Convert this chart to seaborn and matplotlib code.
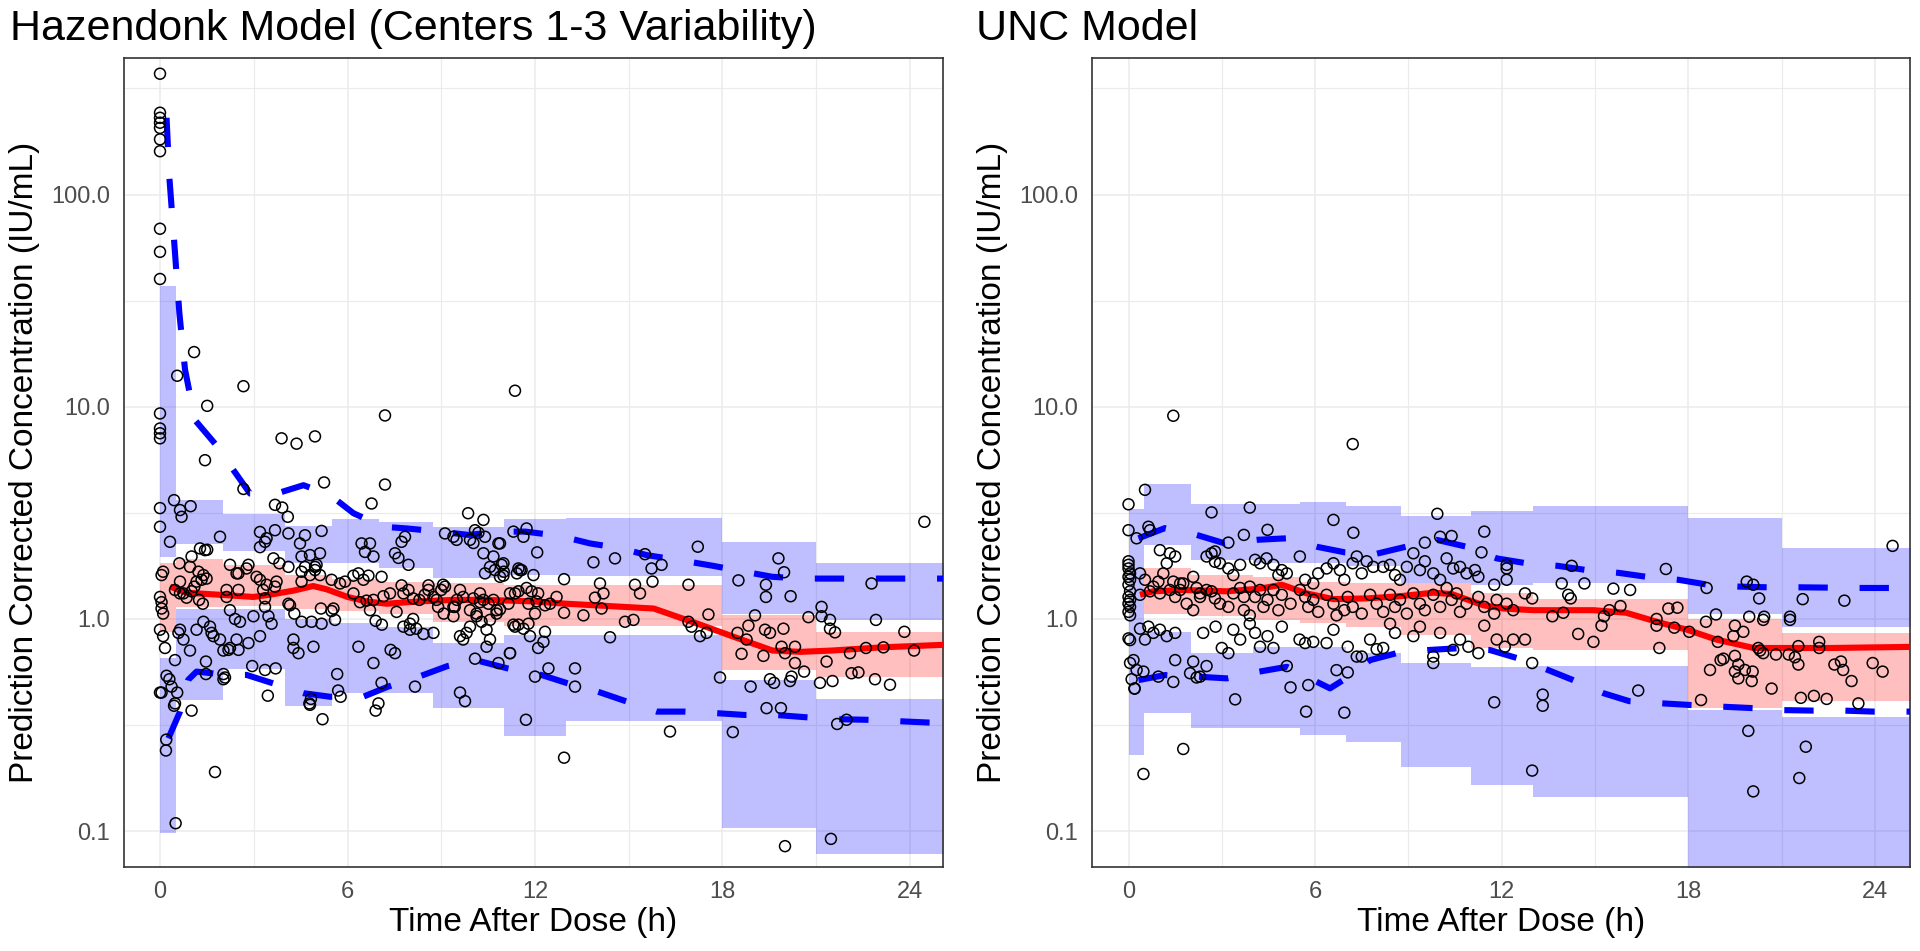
import numpy as np
import pandas as pd
import matplotlib
matplotlib.use("Agg")
from matplotlib import pyplot as plt
import seaborn as sns

# bins shared by both panels (h)
bin_edges = [0, 0.5, 2, 4, 5.5, 7, 8.75, 11, 13, 18, 21, 25.5]

# ---- Hazendonk model (left) ----
left_p95_lo = [1.96, 2.26, 2.10, 1.84, 1.84, 1.74, 1.56, 1.61, 1.60, 1.06, 0.99]
left_p95_hi = [37.0, 3.64, 3.13, 2.75, 2.96, 2.85, 2.72, 2.96, 3.00, 2.31, 1.84]
left_p50_lo = [0.87, 1.14, 1.15, 1.11, 1.09, 1.06, 0.97, 0.93, 0.93, 0.575, 0.53]
left_p50_hi = [1.83, 1.92, 1.80, 1.61, 1.55, 1.50, 1.47, 1.45, 1.45, 1.04, 0.87]
left_p05_lo = [0.098, 0.415, 0.58, 0.39, 0.45, 0.45, 0.38, 0.28, 0.33, 0.103, 0.078]
left_p05_hi = [0.655, 1.12, 1.11, 1.00, 0.96, 0.92, 0.77, 0.84, 0.84, 0.515, 0.42]

left_median = [(0.32, 1.42), (0.85, 1.33), (1.92, 1.30), (2.99, 1.27), (3.5, 1.30),
               (4.27, 1.36), (4.9, 1.43), (5.33, 1.38), (6.0, 1.27), (6.6, 1.21),
               (7.25, 1.18), (8.3, 1.21), (9.4, 1.23), (10.45, 1.23), (11.95, 1.21),
               (13.0, 1.18), (15.8, 1.12), (17.2, 0.95), (18.3, 0.83), (19.6, 0.71),
               (20.5, 0.70), (21.5, 0.71), (23.1, 0.735), (25.5, 0.76)]
left_q95 = [(0.21, 230), (0.3, 120), (0.45, 61), (0.62, 27.6), (0.8, 15), (1.12, 8.65),
            (1.76, 6.7), (2.35, 5.03), (2.88, 3.9), (3.73, 3.9), (4.59, 4.27),
            (5.44, 3.84), (6.19, 3.15), (7.15, 2.72), (7.9, 2.67), (8.96, 2.58),
            (9.87, 2.49), (10.93, 2.58), (11.7, 2.58), (12.8, 2.46), (13.76, 2.27),
            (14.77, 2.15), (15.57, 2.0), (16.75, 1.88), (17.7, 1.78), (18.7, 1.67),
            (19.6, 1.58), (20.6, 1.55), (25.5, 1.55)]
left_q05 = [(0.27, 0.274), (0.64, 0.366), (0.9, 0.516), (1.17, 0.565), (1.65, 0.555),
            (2.0, 0.545), (2.77, 0.545), (3.57, 0.50), (4.59, 0.447), (5.44, 0.43),
            (6.5, 0.43), (7.3, 0.48), (8.3, 0.536), (9.2, 0.60), (10.1, 0.64),
            (11.1, 0.586), (12.2, 0.545), (13.0, 0.50), (14.0, 0.455), (14.9, 0.41),
            (15.9, 0.366), (16.8, 0.366), (17.8, 0.36), (18.7, 0.353), (19.7, 0.353),
            (20.7, 0.344), (21.7, 0.337), (22.6, 0.335), (23.6, 0.33), (24.6, 0.325),
            (25.5, 0.322)]
left_obs = [
    (0, 371), (0, 243), (0, 230), (0, 218), (0, 206), (0, 182), (0, 160), (0, 69),
    (0, 53.7), (0, 40), (0, 9.3), (0, 7.9), (0, 7.5), (0, 7.1), (1.09, 18.1),
    (0.55, 14.0), (2.67, 12.5), (1.51, 10.1), (3.89, 7.1), (4.37, 6.7), (4.96, 7.25),
    (7.2, 9.1), (11.36, 11.9), (1.44, 5.6),
    (0, 3.33), (0, 2.72), (0.05, 1.61), (0.1, 1.67), (0, 1.27), (0.05, 1.20),
    (0.05, 1.12), (0.1, 1.06), (0, 0.89), (0.1, 0.83), (0.16, 0.73), (0, 0.45),
    (0.05, 0.45), (0.2, 0.27), (0.19, 0.24), (0.5, 0.109),
    (0.45, 3.63), (0.64, 3.26), (0.69, 3.03), (0.98, 3.4), (0.32, 2.31), (0.62, 1.83),
    (0.64, 1.5), (0.48, 1.37), (0.64, 1.32), (0.75, 1.32), (0.85, 1.26), (1.01, 1.35),
    (0.64, 0.89), (0.59, 0.86), (0.75, 0.80), (0.96, 0.71), (0.48, 0.64), (0.21, 0.54),
    (0.37, 0.48), (0.45, 0.39), (1.01, 0.37), (0.48, 0.40), (0.3, 0.52), (0.55, 0.45),
    (1.28, 2.15), (1.44, 2.11), (1.51, 2.12), (1.92, 2.44), (1.01, 1.97), (0.96, 1.76),
    (1.23, 1.67), (1.39, 1.61), (1.33, 1.53), (1.17, 1.50), (1.49, 1.55), (1.1, 1.42),
    (1.25, 1.23), (1.37, 1.18), (1.17, 0.89), (1.39, 0.97), (1.6, 0.92), (1.65, 0.86),
    (1.92, 0.80), (2.03, 0.71), (1.71, 0.83), (1.47, 0.63), (1.47, 0.55), (2.03, 0.55),
    (2.03, 0.52), (2.08, 0.53), (1.76, 0.19),
    (2.67, 4.1), (3.68, 3.45), (3.91, 3.35), (4.09, 3.03), (3.2, 2.57), (3.41, 2.40),
    (3.68, 2.62), (3.2, 2.18), (3.36, 2.31), (3.63, 1.93), (3.82, 1.83), (2.24, 1.80),
    (2.51, 1.64), (2.77, 1.73), (2.83, 1.80), (3.09, 1.58), (3.2, 1.53), (3.41, 1.45),
    (3.3, 1.37), (3.36, 1.25), (2.13, 1.37), (2.13, 1.27), (2.51, 1.37), (2.45, 1.64),
    (3.68, 1.42), (3.73, 1.50), (2.24, 1.10), (2.4, 1.0), (2.56, 0.97), (2.99, 1.03),
    (3.36, 1.14), (3.47, 1.03), (3.57, 0.95), (3.2, 0.83), (2.83, 0.77), (2.45, 0.80),
    (2.24, 0.73), (2.51, 0.715), (2.19, 0.715), (2.95, 0.60), (3.36, 0.575),
    (3.7, 0.585), (3.45, 0.435), (4.27, 0.80), (4.27, 0.73), (4.43, 0.69), (4.91, 0.74),
    (4.11, 2.53), (4.64, 2.48), (5.17, 2.60), (4.48, 2.27), (5.12, 2.04), (4.53, 1.97),
    (4.8, 2.0), (5.01, 1.80), (4.96, 1.70), (4.53, 1.67), (4.11, 1.76), (4.53, 1.50),
    (4.64, 1.76), (4.8, 1.61), (4.96, 1.76), (5.12, 1.61), (5.49, 1.53), (5.76, 1.47),
    (5.92, 1.50), (4.11, 1.18), (4.16, 1.16), (5.25, 4.4), (5.2, 0.337), (4.8, 0.394),
    (4.83, 0.42), (4.78, 0.40), (5.67, 0.55), (5.7, 0.46), (5.78, 0.43), (4.3, 1.06),
    (4.53, 0.97), (4.85, 0.97), (5.17, 0.95), (5.6, 0.99), (5.49, 1.09), (5.55, 1.12),
    (5.15, 1.12),
    (7.2, 4.3), (6.77, 3.5), (6.45, 2.27), (6.72, 2.27), (6.56, 2.07), (6.83, 1.97),
    (7.52, 2.04), (7.63, 1.94), (7.95, 1.80), (7.73, 2.31), (7.84, 2.44), (6.19, 1.32),
    (6.67, 1.60), (6.19, 1.60), (6.35, 1.64), (6.51, 1.53), (6.4, 1.20), (6.61, 1.22),
    (6.72, 1.10), (6.83, 1.23), (7.09, 1.58), (7.15, 1.28), (7.36, 1.32), (7.57, 1.08),
    (7.73, 1.44), (7.79, 1.32), (7.95, 1.37), (6.9, 0.98), (7.1, 0.94), (6.35, 0.74),
    (6.83, 0.62), (6.99, 0.40), (6.9, 0.37), (7.09, 0.50), (7.38, 0.715), (7.52, 0.69),
    (8.16, 0.48), (7.79, 0.92), (8.0, 0.89),
    (8.1, 1.25), (8.3, 1.23), (8.47, 1.30), (8.59, 1.44), (8.59, 1.37), (8.75, 1.27),
    (8.85, 1.23), (9.0, 1.37), (9.06, 1.45), (9.12, 1.42), (9.39, 1.14), (9.5, 1.23),
    (9.6, 1.37), (9.7, 1.27), (9.92, 1.10), (10.03, 1.25), (10.24, 1.32), (10.35, 1.23),
    (10.51, 1.18), (10.67, 1.23), (10.77, 1.10), (10.99, 1.60), (11.15, 1.18),
    (11.36, 1.32), (11.42, 1.64), (11.47, 1.73), (10.56, 1.76), (10.4, 1.64),
    (10.72, 1.70), (10.88, 1.58), (10.99, 1.83), (11.52, 1.70), (10.35, 2.04),
    (10.67, 1.97), (9.86, 3.15), (10.35, 2.93), (10.19, 2.55), (10.4, 2.44),
    (10.83, 2.27), (10.08, 2.62), (9.12, 2.53), (9.49, 2.36), (9.92, 2.36), (10.03, 2.28),
    (9.39, 2.44), (8.0, 0.95), (8.2, 0.90), (8.1, 1.00), (8.43, 0.85), (8.75, 0.86),
    (8.9, 1.14), (9.08, 1.06), (9.43, 1.14), (9.39, 1.03), (9.81, 0.86), (9.92, 0.92),
    (9.7, 0.80), (9.6, 0.83), (10.13, 1.03), (10.29, 0.97), (10.45, 0.89), (10.45, 0.74),
    (10.56, 0.80), (10.56, 0.99), (11.36, 0.92), (11.47, 0.94), (10.24, 1.20),
    (10.13, 1.06), (10.88, 1.11), (10.77, 1.06), (10.08, 0.65), (10.83, 0.62),
    (11.2, 0.69), (9.6, 0.45), (9.76, 0.41),
    (10.88, 2.27), (10.93, 1.80), (11.0, 1.67), (11.57, 1.70), (11.95, 1.61), (12.07, 2.06),
    (11.73, 2.67), (11.63, 2.44), (11.31, 2.58), (11.2, 1.32), (11.47, 1.35), (11.73, 1.40),
    (11.89, 1.35), (12.1, 1.32), (12.32, 1.16), (12.48, 1.18), (12.69, 1.27), (11.79, 1.18),
    (12.05, 1.21), (12.0, 1.06), (11.31, 0.94), (11.63, 0.90), (11.79, 0.95), (11.84, 0.83),
    (12.32, 0.87), (12.27, 0.78), (12.1, 0.73), (11.2, 0.69), (12.43, 0.585), (12.0, 0.535),
    (13.28, 0.585), (13.28, 0.48), (11.71, 0.335), (12.93, 0.222),
    (12.93, 1.54), (12.93, 1.07), (13.55, 1.04), (13.87, 1.85), (14.08, 1.47), (14.19, 1.32),
    (13.92, 1.26), (14.13, 1.12), (14.4, 0.82), (14.56, 1.93), (15.2, 1.45), (15.36, 1.32),
    (14.88, 0.97), (15.15, 0.99), (15.52, 2.02), (15.73, 1.73), (15.76, 1.50), (16.05, 1.80),
    (16.91, 1.45), (17.21, 2.19), (16.91, 0.97), (17.01, 0.92), (17.28, 0.83), (17.49, 0.86),
    (17.55, 1.05), (16.32, 0.295),
    (17.92, 0.53), (18.33, 0.293), (18.51, 1.52), (18.48, 0.86), (18.77, 0.80), (18.83, 0.93),
    (19.04, 1.04), (18.61, 0.685), (19.31, 0.67), (18.9, 0.48), (19.36, 0.89), (19.52, 0.86),
    (19.39, 1.45), (19.39, 1.27), (19.79, 1.93), (19.97, 1.66), (20.18, 1.28), (19.41, 0.38),
    (19.87, 0.38), (19.95, 0.90), (20.32, 0.74), (20.32, 0.62), (19.89, 0.74), (20.0, 0.69),
    (20.21, 0.535), (20.16, 0.51), (19.52, 0.52), (19.65, 0.50), (20.61, 0.565), (21.12, 0.50),
    (21.52, 0.51), (21.33, 0.63), (20.75, 1.02), (21.17, 1.14), (21.17, 1.03), (21.44, 0.99),
    (21.44, 0.90), (21.6, 0.865), (22.08, 0.69), (22.13, 0.555), (22.35, 0.56), (22.59, 0.73),
    (22.88, 0.52), (23.15, 0.735), (23.36, 0.49), (22.91, 0.99), (22.77, 1.47), (23.82, 0.87),
    (24.13, 0.71), (24.46, 2.87), (21.67, 0.32), (21.97, 0.335), (20.0, 0.085), (21.47, 0.092),
]

# ---- UNC model (right) ----
right_p95_lo = [0.86, 2.22, 1.90, 1.83, 1.83, 1.77, 1.48, 1.45, 1.47, 1.06, 0.92]
right_p95_hi = [3.29, 4.32, 3.49, 3.49, 3.57, 3.41, 3.06, 3.21, 3.39, 2.98, 2.17]
right_p50_lo = [1.30, 1.06, 1.03, 0.99, 0.96, 0.92, 0.84, 0.73, 0.714, 0.379, 0.41]
right_p50_hi = [1.30, 1.73, 1.61, 1.58, 1.50, 1.47, 1.48, 1.32, 1.24, 0.995, 0.856]
right_p05_lo = [0.228, 0.359, 0.305, 0.305, 0.284, 0.264, 0.201, 0.165, 0.145, 0.01, 0.01]
right_p05_hi = [0.86, 0.87, 0.69, 0.74, 0.74, 0.69, 0.618, 0.596, 0.60, 0.372, 0.346]

right_median = [(0.37, 1.30), (0.8, 1.35), (1.76, 1.37), (3.16, 1.35), (4.23, 1.39),
                (4.93, 1.45), (5.73, 1.32), (6.59, 1.24), (7.66, 1.25), (8.73, 1.28),
                (9.8, 1.33), (10.4, 1.31), (11.41, 1.16), (12.05, 1.12), (13.02, 1.10),
                (14.95, 1.10), (16.0, 1.07), (16.99, 0.97), (17.96, 0.89), (18.9, 0.80),
                (20.1, 0.73), (21.05, 0.73), (22.6, 0.73), (25.5, 0.74)]
right_q95 = [(0.32, 2.4), (1.17, 2.68), (2.19, 2.49), (3.1, 2.27), (4.12, 2.36), (5.09, 2.4),
             (6.05, 2.19), (6.96, 2.06), (7.98, 2.03), (8.92, 2.19), (9.91, 2.36),
             (10.87, 2.19), (11.84, 1.93), (12.8, 1.83), (13.8, 1.78), (14.73, 1.70),
             (15.75, 1.65), (16.66, 1.58), (17.68, 1.53), (18.64, 1.45), (19.66, 1.42),
             (20.57, 1.41), (21.6, 1.41), (23.5, 1.40), (25.5, 1.40)]
right_q05 = [(0.32, 0.515), (1.17, 0.544), (2.19, 0.535), (3.16, 0.525), (4.18, 0.564),
             (5.09, 0.595), (6.05, 0.506), (6.48, 0.471), (6.9, 0.515), (7.77, 0.64),
             (8.62, 0.69), (9.64, 0.714), (10.55, 0.727), (11.62, 0.714), (12.53, 0.652),
             (13.5, 0.574), (14.3, 0.515), (15.27, 0.447), (16.1, 0.41), (17.2, 0.40),
             (18.1, 0.393), (19.1, 0.386), (20.1, 0.38), (21.06, 0.372), (22.02, 0.37),
             (23.0, 0.37), (23.95, 0.366), (25.5, 0.366)]
right_obs = [
    (0, 3.47), (0, 2.62), (0, 1.87), (0, 1.80), (0, 1.73), (0.05, 1.64), (0, 1.58),
    (0.05, 1.53), (0, 1.45), (0.05, 1.35), (0, 1.27), (0.05, 1.23), (0, 1.18), (0.05, 1.14),
    (0, 1.08), (0.05, 1.04), (0, 0.81), (0.05, 0.795), (0.05, 0.62), (0.1, 0.52),
    (0.2, 0.47), (0.48, 0.186),
    (1.44, 9.07), (7.21, 6.67), (0.53, 4.06), (3.9, 3.35), (2.67, 3.18), (6.59, 2.93),
    (9.93, 3.13), (7.23, 2.55), (3.71, 2.49), (4.47, 2.63), (0.64, 2.72), (0.69, 2.62),
    (0.26, 2.40), (1.01, 2.11), (11.44, 2.58), (12.16, 1.80), (12.16, 1.53), (10.39, 2.46),
    (10.02, 2.44), (9.53, 2.29), (11.35, 2.06), (3.21, 2.29), (2.78, 2.08), (2.67, 2.04),
    (2.51, 1.97), (2.78, 1.86),
    (1.33, 2.04), (1.5, 1.97), (1.23, 1.83), (1.44, 1.5), (1.76, 1.47), (0.37, 1.64),
    (0.53, 1.53), (0.8, 1.42), (0.96, 1.5), (1.12, 1.64), (1.66, 1.47), (2.08, 1.58),
    (2.19, 1.40), (2.3, 1.27), (2.51, 1.37), (2.94, 1.83), (3.21, 1.73), (3.37, 1.61),
    (3.59, 1.80), (3.9, 1.42), (3.71, 1.27), (4.07, 1.90), (4.23, 1.83), (4.44, 1.93),
    (4.66, 1.80), (4.82, 1.61), (4.93, 1.70), (5.09, 1.64), (5.51, 1.97), (5.68, 1.53),
    (5.94, 1.47), (6.1, 1.64), (6.37, 1.73), (6.59, 1.83), (6.8, 1.70), (6.94, 1.53),
    (7.21, 1.83), (7.34, 1.97), (7.5, 1.64), (7.66, 1.87), (7.87, 1.76), (8.19, 1.76),
    (8.41, 1.80), (8.57, 1.61), (8.73, 1.53), (8.95, 1.76), (9.16, 2.04), (9.37, 1.70),
    (9.53, 1.87), (9.8, 1.64), (10.02, 1.53), (10.23, 1.93), (10.44, 1.73), (10.66, 1.76),
    (10.87, 1.64), (11.14, 1.70), (11.25, 1.58), (11.76, 1.45),
    (0.37, 1.30), (0.69, 1.35), (1.01, 1.32), (1.33, 1.37), (1.5, 1.27), (1.66, 1.37),
    (1.87, 1.18), (2.08, 1.10), (2.3, 1.32), (2.67, 1.35), (2.78, 1.25), (2.94, 1.18),
    (3.21, 1.14), (3.37, 1.32), (3.59, 1.40), (3.71, 1.10), (3.9, 1.04), (4.07, 1.27),
    (4.23, 1.37), (4.34, 1.14), (4.47, 1.23), (4.66, 1.37), (4.82, 1.10), (4.93, 1.30),
    (5.21, 1.18), (5.51, 1.37), (5.68, 1.27), (5.78, 1.14), (5.94, 1.23), (6.1, 1.08),
    (6.37, 1.30), (6.59, 1.18), (6.69, 1.04), (6.94, 1.10), (7.05, 1.27), (7.21, 1.14),
    (7.5, 1.06), (7.77, 1.30), (7.98, 1.18), (8.19, 1.08), (8.41, 1.30), (8.57, 1.14),
    (8.73, 1.23), (8.95, 1.06), (9.16, 1.32), (9.37, 1.18), (9.53, 1.10), (9.8, 1.30),
    (10.02, 1.14), (10.23, 1.40), (10.39, 1.23), (10.55, 1.32), (10.66, 1.08), (10.87, 1.18),
    (11.25, 1.27), (11.44, 1.14), (11.76, 1.06), (11.84, 1.23), (12.16, 1.18), (12.37, 1.10),
    (12.75, 1.32),
    (0.37, 0.90), (0.53, 0.80), (0.8, 0.86), (1.01, 0.89), (1.23, 0.83), (0.64, 0.92),
    (1.5, 0.86), (1.5, 0.64), (2.08, 0.63), (2.51, 0.60), (1.98, 0.555), (2.19, 0.53),
    (2.3, 0.535), (0.96, 0.535), (1.44, 0.505), (0.26, 0.575), (0.16, 0.64), (0.48, 0.565),
    (2.4, 0.86), (2.8, 0.92), (3.0, 0.73), (3.21, 0.69), (3.37, 0.89), (3.59, 0.80),
    (3.9, 0.95), (4.07, 0.86), (4.23, 0.74), (4.47, 0.83), (4.66, 0.73), (4.93, 0.92),
    (5.21, 0.476), (5.78, 0.488), (5.09, 0.60), (5.5, 0.80), (5.68, 0.77), (5.94, 0.78),
    (6.37, 0.77), (6.59, 0.89), (6.69, 0.574), (7.05, 0.56), (7.05, 0.74), (7.34, 0.665),
    (7.5, 0.665), (7.77, 0.80), (7.98, 0.72), (8.19, 0.73), (8.41, 0.95), (8.57, 0.86),
    (9.16, 0.83), (9.37, 0.92), (9.8, 0.62), (9.8, 0.665), (10.02, 0.86), (10.44, 0.715),
    (10.66, 0.80), (10.93, 0.74), (11.25, 0.69), (11.44, 0.93), (11.84, 0.80), (12.1, 0.74),
    (12.37, 0.80), (12.75, 0.80), (12.98, 0.62), (11.76, 0.405), (12.98, 0.193),
    (13.32, 0.44), (13.32, 0.39), (5.71, 0.366), (6.94, 0.362), (3.43, 0.418), (1.76, 0.244),
    (0.19, 0.47),
    (12.16, 1.73), (12.98, 1.25), (13.93, 1.47), (14.14, 1.30), (14.22, 1.25), (14.66, 1.47),
    (14.25, 1.78), (13.98, 1.07), (13.63, 1.03), (14.46, 0.85), (14.95, 0.78), (15.21, 0.93),
    (15.29, 1.03), (15.46, 1.10), (15.59, 1.39), (15.82, 1.15), (16.13, 1.37), (16.39, 0.46),
    (17.07, 0.73), (16.98, 1.0), (16.98, 0.93), (17.36, 1.12), (17.65, 1.13), (17.55, 0.91),
    (18.03, 0.87), (17.28, 1.72), (18.41, 0.415), (18.59, 1.40), (18.57, 0.97), (18.89, 1.05),
    (18.7, 0.575), (18.95, 0.78), (19.04, 0.64), (19.13, 0.65), (19.45, 0.83), (19.5, 0.93),
    (19.5, 0.67), (19.61, 0.61), (19.5, 0.565), (19.77, 0.87), (19.61, 0.525), (19.82, 0.575),
    (20.07, 0.565), (20.04, 0.51), (19.88, 1.50), (20.09, 1.45), (20.28, 1.25), (19.96, 1.025),
    (20.44, 1.025), (20.41, 0.99), (20.25, 0.73), (20.41, 0.69), (20.31, 0.71), (20.68, 0.47),
    (20.82, 0.68), (21.23, 0.68), (21.27, 1.025), (21.27, 0.99), (21.43, 0.66), (21.54, 0.745),
    (21.54, 0.61), (21.62, 0.425), (22.04, 0.434), (22.21, 0.78), (22.21, 0.73), (22.45, 0.42),
    (22.7, 0.61), (22.91, 0.63), (22.98, 0.575), (23.25, 0.51), (23.47, 0.40), (23.93, 0.62),
    (24.25, 0.565), (21.68, 1.24), (23.02, 1.22), (24.57, 2.21), (19.93, 0.297),
    (21.78, 0.25), (21.57, 0.178), (20.09, 0.154),
]

panels = [
    dict(title="Hazendonk Model (Centers 1-3 Variability)", obs=left_obs,
         median=left_median, q95=left_q95, q05=left_q05,
         bands=[(left_p95_lo, left_p95_hi, "blue"), (left_p50_lo, left_p50_hi, "red"),
                (left_p05_lo, left_p05_hi, "blue")],
         rect=[124 / 1920, 84 / 951, 819 / 1920, 809 / 951], xlim=(-1.152, 25.056),
         title_x=10 / 1920),
    dict(title="UNC Model", obs=right_obs,
         median=right_median, q95=right_q95, q05=right_q05,
         bands=[(right_p95_lo, right_p95_hi, "blue"), (right_p50_lo, right_p50_hi, "red"),
                (right_p05_lo, right_p05_hi, "blue")],
         rect=[1092 / 1920, 84 / 951, 818 / 1920, 809 / 951], xlim=(-1.174, 25.13),
         title_x=976 / 1920),
]

sns.set_theme(style="white")
plt.rcParams["font.family"] = ["Liberation Sans", "DejaVu Sans"]

fig = plt.figure(figsize=(19.2, 9.51), dpi=100)

for p in panels:
    ax = fig.add_axes(p["rect"])
    ax.set_yscale("log")
    ax.set_xlim(*p["xlim"])
    ax.set_ylim(0.0678, 440)

    # grid
    ax.set_xticks([0, 6, 12, 18, 24])
    ax.set_xticks([3, 9, 15, 21], minor=True)
    ax.set_yticks([0.1, 1, 10, 100])
    ax.set_yticks([10 ** -0.5, 10 ** 0.5, 10 ** 1.5, 10 ** 2.5], minor=True)
    ax.set_yticklabels(["0.1", "1.0", "10.0", "100.0"])
    ax.set_xticklabels(["0", "6", "12", "18", "24"])
    ax.yaxis.set_minor_formatter(matplotlib.ticker.NullFormatter())
    ax.grid(which="major", color="#EBEBEB", lw=1.1)
    ax.grid(which="minor", color="#EBEBEB", lw=0.8)
    ax.set_axisbelow(True)

    # prediction interval boxes
    for lo, hi, col in p["bands"]:
        ax.fill_between(bin_edges, lo + [lo[-1]], hi + [hi[-1]], step="post",
                        color=col, alpha=0.25, lw=0)

    for key, col, ls in [("median", "red", "-"), ("q95", "blue", (0, (4.8, 5.2))),
                         ("q05", "blue", (0, (4.8, 5.2)))]:
        d = pd.DataFrame(p[key], columns=["time", "conc"])
        sns.lineplot(data=d, x="time", y="conc", ax=ax, color=col, lw=4.4,
                     linestyle=ls, estimator=None, sort=False, zorder=3,
                     solid_capstyle="butt", dash_capstyle="butt")

    obs = pd.DataFrame(p["obs"], columns=["time", "conc"])
    sns.scatterplot(data=obs, x="time", y="conc", ax=ax, marker="o", s=62,
                    facecolors="none", edgecolor="black", linewidth=1.1, zorder=4)

    ax.tick_params(axis="both", which="major", length=6, width=1.1, color="#333333",
                   labelsize=17, labelcolor="#4D4D4D", direction="out", pad=4)
    ax.tick_params(axis="both", which="minor", length=0)
    for s in ax.spines.values():
        s.set_color("#333333")
        s.set_linewidth(1.2)

    ax.set_xlabel("Time After Dose (h)", fontsize=24, color="black")
    ax.set_ylabel("Prediction Corrected Concentration (IU/mL)", fontsize=24, color="black")
    ax.xaxis.set_label_coords(0.5, -0.069)
    ax.xaxis.label.set_verticalalignment("center")
    ax.yaxis.set_label_coords(-0.122, 0.5)
    ax.yaxis.label.set_verticalalignment("center")

    fig.text(p["title_x"], 1 - 40 / 951, p["title"], fontsize=31, color="black",
             ha="left", va="baseline")

fig.savefig("out.png", dpi=100)
